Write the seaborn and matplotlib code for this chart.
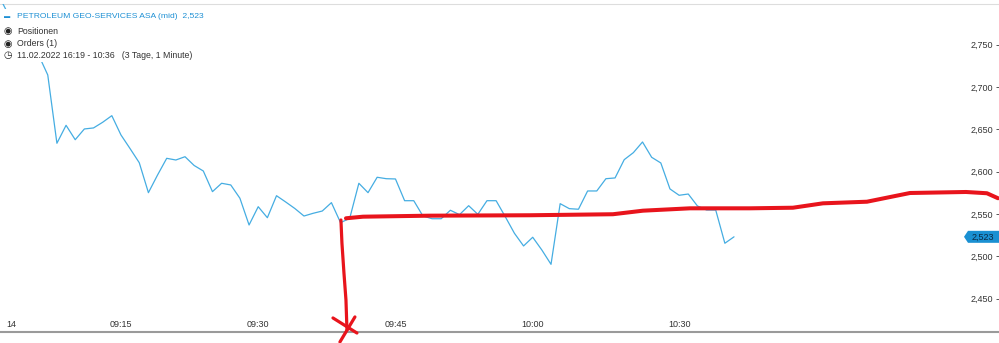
import numpy as np
import pandas as pd
import matplotlib
matplotlib.use("Agg")
import matplotlib.pyplot as plt
import matplotlib.transforms as mtransforms
from matplotlib.patches import Rectangle, Polygon
import seaborn as sns

# ---------------- data ----------------
minute_index = list(range(-13, 68))
price = [2.8006, 2.7793, 2.7639, 2.7498, 2.7379, 2.7143, 2.6336, 2.6548, 2.6378, 2.6505,
         2.6517, 2.6584, 2.6662, 2.6434, 2.6272, 2.6106, 2.5752, 2.5961, 2.6158, 2.6138,
         2.6177, 2.6073, 2.6008, 2.5764, 2.5863, 2.5843, 2.5686, 2.5370, 2.5586, 2.5456,
         2.5716, 2.5642, 2.5565, 2.5476, 2.5508, 2.5535, 2.5634, 2.5397, 2.5449, 2.5863,
         2.5752, 2.5934, 2.5917, 2.5914, 2.5657, 2.5657, 2.5476, 2.5444, 2.5444, 2.5544,
         2.5492, 2.5598, 2.5496, 2.5657, 2.5657, 2.5468, 2.5272, 2.5122, 2.5225, 2.5074,
         2.4905, 2.5622, 2.5563, 2.5556, 2.5772, 2.5772, 2.5917, 2.5926, 2.6142, 2.6225,
         2.6351, 2.6170, 2.6103, 2.5796, 2.5721, 2.5736, 2.5595, 2.5547, 2.5547, 2.5154,
         2.5230]

tick_index = [-12, 0, 15, 30, 45, 61]
tick_labels = ["14", "09:15", "09:30", "09:45", "10:00", "10:30"]

y_ticks = [2.45, 2.50, 2.55, 2.60, 2.65, 2.70, 2.75]
y_tick_labels = ["2,450", "2,500", "2,550", "2,600", "2,650", "2,700", "2,750"]

last_price = 2.523
last_label = "2,523"

# hand-drawn red annotation (in data units: minute index, price)
red_h_x = [24.59, 26.45, 33.77, 44.70, 53.77, 57.05, 62.19, 68.74, 73.44, 76.72, 81.53, 86.23, 92.35, 94.64, 95.85]
red_h_y = [2.5449, 2.5468, 2.5480, 2.5485, 2.5497, 2.5539, 2.5567, 2.5567, 2.5574, 2.5626, 2.5645, 2.5748, 2.5760, 2.5745, 2.5686]
red_v_x = [24.04, 24.15, 24.37, 24.59, 24.70]
red_v_y = [2.5429, 2.5157, 2.4803, 2.4483, 2.4129]
red_xa_x = [23.17, 25.79]
red_xa_y = [2.4271, 2.4093]
red_xb_x = [25.57, 23.93]
red_xb_y = [2.4283, 2.3987]

legend_title = "PETROLEUM GEO-SERVICES ASA (mid)  2,523"
legend_rows = ["Positionen", "Orders (1)", "11.02.2022 16:19 - 10:36   (3 Tage, 1 Minute)"]

# ---------------- style ----------------
sns.set_style("white")
plt.rcParams["font.family"] = ["Liberation Sans", "DejaVu Sans"]

W, H = 999, 343
fig = plt.figure(figsize=(W / 100, H / 100), dpi=100)
ax_top_px, ax_bot_px = 4, 332
ax = fig.add_axes([0, (H - ax_bot_px) / H, 1, (ax_bot_px - ax_top_px) / H])

df = pd.DataFrame({"minute": minute_index, "price": price})
sns.lineplot(data=df, x="minute", y="price", ax=ax, color="#45ade2", linewidth=0.9, zorder=3)

red = "#e8141c"
for xs, ys, lw in [(red_h_x, red_h_y, 2.9), (red_v_x, red_v_y, 2.3),
                   (red_xa_x, red_xa_y, 2.3), (red_xb_x, red_xb_y, 2.3)]:
    d = pd.DataFrame({"x": xs, "y": ys})
    sns.lineplot(data=d, x="x", y="y", ax=ax, color=red, linewidth=lw, sort=False,
                 estimator=None, zorder=6, clip_on=False, solid_capstyle="round",
                 solid_joinstyle="round")

ax.set_xlim(-13.22, 95.96)
ax.set_ylim(2.4105, 2.7982)
ax.set_xlabel("")
ax.set_ylabel("")

# x axis: labels inside above the axis line
ax.set_xticks(tick_index)
ax.set_xticklabels(tick_labels)
ax.tick_params(axis="x", direction="in", length=3, width=0.8, color="#333333",
               pad=-8.8, labelsize=6.5, labelcolor="#333333")

# y axis on right, labels inside
ax.yaxis.tick_right()
ax.set_yticks(y_ticks)
ax.set_yticklabels(y_tick_labels)
ax.tick_params(axis="y", direction="in", length=2.5, width=0.7, color="#555555",
               pad=-4, labelsize=6.5, labelcolor="#333333")
for lab in ax.get_yticklabels():
    lab.set_horizontalalignment("right")

for s in ["left", "right"]:
    ax.spines[s].set_visible(False)
ax.spines["bottom"].set_color("#9a9a9a")
ax.spines["bottom"].set_linewidth(1.5)
ax.spines["top"].set_color("#dddddd")
ax.spines["top"].set_linewidth(0.8)

# last price badge (arrow-shaped tag at the right edge)
fig.canvas.draw()
xr, yc = ax.transData.transform((ax.get_xlim()[1], last_price))
hh = 6
badge = Polygon([(xr - 35, yc), (xr - 31, yc + hh), (xr, yc + hh), (xr, yc - hh), (xr - 31, yc - hh)],
                closed=True, transform=mtransforms.IdentityTransform(), fc="#1a90d2", ec="none",
                zorder=8, clip_on=False)
ax.add_patch(badge)
ax.text(0.984, last_price, last_label,
        transform=mtransforms.blended_transform_factory(ax.transAxes, ax.transData),
        ha="center", va="center", fontsize=6.5, color="#0b2a44", zorder=9)

# legend block (white box covering the line)
ax_h = ax_bot_px - ax_top_px
ax.add_patch(Rectangle((0, (ax_bot_px - 62) / ax_h), 0.215, (62 - 9) / ax_h,
                       transform=ax.transAxes, fc="white", ec="none", zorder=5))

def fx(px):
    return px / W

def fy(py):
    return 1 - py / H

fig.text(fx(3.5), fy(17), "▬", fontsize=4.5, color="#1e90d4", va="center", ha="left", zorder=10)
fig.text(fx(17), fy(17), legend_title, fontsize=6.1, color="#1e90d4", va="center", ha="left", zorder=10)
icons = ["◉", "◉", "◷"]
rows_y = [31, 44, 55]
for ic, txt, yy in zip(icons, legend_rows, rows_y):
    fig.text(fx(3), fy(yy), ic, fontsize=7, color="#222222", va="center", ha="left",
             family=["DejaVu Sans"], zorder=10)
    fig.text(fx(17), fy(yy), txt, fontsize=6.3, color="#333333", va="center", ha="left", zorder=10)

fig.savefig("out.png", dpi=100, facecolor="white")
